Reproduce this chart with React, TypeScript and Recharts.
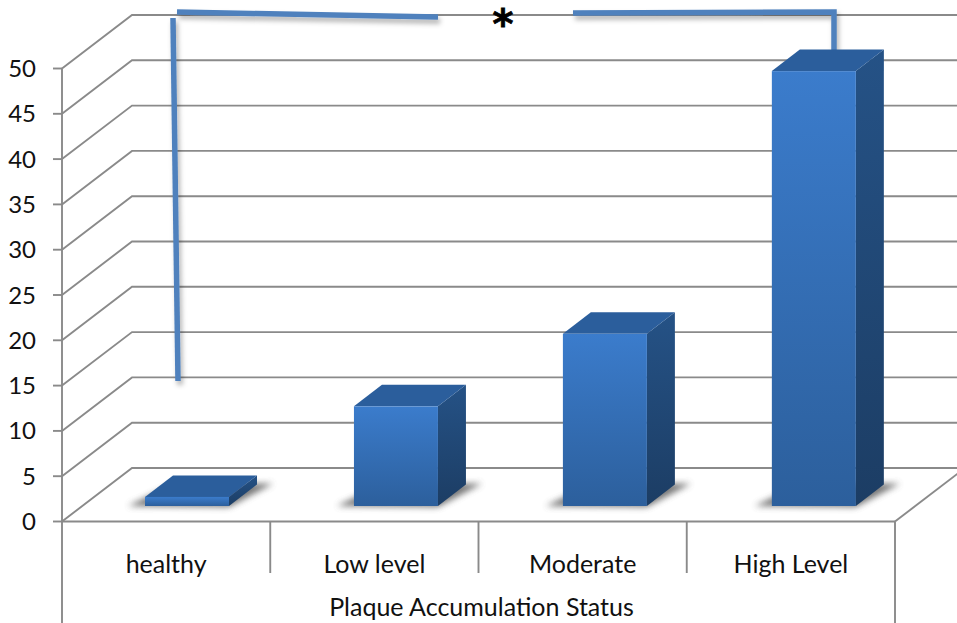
import { BarChart, Bar, XAxis, YAxis, CartesianGrid, Customized } from "recharts";

const categories = ["healthy", "Low level", "Moderate", "High Level"];
const plaqueValues = [1, 11, 19, 48];
const yTicks = [0, 5, 10, 15, 20, 25, 30, 35, 40, 45, 50];
const axisTitle = "Plaque Accumulation Status";

const chartData = categories.map((name, i) => ({ name, value: plaqueValues[i] }));

const WIDTH = 957;
const HEIGHT = 623;
const PLOT_LEFT = 62;
const PLOT_RIGHT = 895;
const PLOT_TOP = 68.5;
const PLOT_BOTTOM = 521.5;
const BAND = (PLOT_RIGHT - PLOT_LEFT) / categories.length;

// Fake 3D: how far the back wall and the bar depth sit from the front plane.
const WALL_DX = 70;
const WALL_DY = 53.5;
const BAR_SHIFT_X = 21;
const BAR_DRIFT_X = 0.7; // bars spread a touch wider than the category bands
const BAR_SHIFT_Y = 15.5;
const BAR_DX = 28;
const BAR_DY = 21.5;

const LINE = "#8a8a8a";
const LINE_W = 1.9;
const FONT = "Lato, 'Open Sans', sans-serif";

// Each grid line runs up the side wall and then across the back wall.
const WallLine = ({ x1, y1 }: any) => {
  const isFloor = Math.abs(y1 - PLOT_BOTTOM) < 1;
  return (
    <g key={y1} fill="none" stroke={LINE} strokeWidth={LINE_W}>
      <polyline points={`${x1},${y1} ${x1 + WALL_DX},${y1 - WALL_DY} ${WIDTH},${y1 - WALL_DY}`} />
      {isFloor && (
        <line x1={PLOT_RIGHT} y1={y1} x2={PLOT_RIGHT + WALL_DX} y2={y1 - WALL_DY} />
      )}
    </g>
  );
};

const CuboidBar = ({ x, y, width, height, index }: any) => {
  const left = x + BAR_SHIFT_X + index * BAR_DRIFT_X;
  const right = left + width;
  const top = y - BAR_SHIFT_Y;
  const base = top + height;
  return (
    <g>
      <polygon
        points={`${left - 17},${base} ${right},${base + 1} ${right + BAR_DX + 16},${base - BAR_DY - 1} ${left + BAR_DX},${base - BAR_DY}`}
        fill="#555"
        opacity={0.8}
        filter="url(#floorShadow)"
      />
      <polygon
        points={`${right},${top} ${right + BAR_DX},${top - BAR_DY} ${right + BAR_DX},${base - BAR_DY} ${right},${base}`}
        fill="url(#barSide)"
      />
      <polygon
        points={`${left},${top} ${right},${top} ${right + BAR_DX},${top - BAR_DY} ${left + BAR_DX},${top - BAR_DY}`}
        fill="#2b5e9c"
      />
      <rect x={left} y={top} width={width} height={height} fill="url(#barFront)" />
    </g>
  );
};

const CategoryTick = ({ x, y, payload, index }: any) => {
  const divider = x - BAND / 2;
  return (
    <g>
      <line
        x1={divider}
        y1={PLOT_BOTTOM}
        x2={divider}
        y2={index === 0 ? HEIGHT : 573}
        stroke={LINE}
        strokeWidth={LINE_W}
      />
      {index === categories.length - 1 && (
        <line x1={PLOT_RIGHT} y1={PLOT_BOTTOM} x2={PLOT_RIGHT} y2={HEIGHT} stroke={LINE} strokeWidth={LINE_W} />
      )}
      <text x={x} y={y + 43} textAnchor="middle" fontFamily={FONT} fontSize={25} fill="#111">
        {payload.value}
      </text>
    </g>
  );
};

// Significance bracket and asterisk above the bars.
const Bracket = () => (
  <g>
    <g fill="none" stroke="#4f81bd" strokeWidth={5.5} filter="url(#lineShadow)">
      <path d="M178 381 L173 18" />
      <path d="M177 12 L438 17" />
      <path d="M573 13 L834 12 L834 50" />
    </g>
    <text
      x={503}
      y={38}
      textAnchor="middle"
      fontFamily="'DejaVu Sans'"
      fontWeight="bold"
      fontSize={40}
      fill="#000"
      stroke="#000"
      strokeWidth={0.8}
    >
      *
    </text>
  </g>
);

export default function App() {
  return (
    <div style={{ position: "absolute", left: 0, top: 0, background: "#fff" }}>
      <BarChart
        width={WIDTH}
        height={HEIGHT}
        data={chartData}
        barSize={84}
        margin={{ top: PLOT_TOP, right: WIDTH - PLOT_RIGHT, left: 0, bottom: 0 }}
      >
        <defs>
          <linearGradient id="barFront" x1="0" y1="0" x2="0" y2="1">
            <stop offset="0%" stopColor="#3b7ccc" />
            <stop offset="100%" stopColor="#2c5f9c" />
          </linearGradient>
          <linearGradient id="barSide" x1="0" y1="0" x2="0" y2="1">
            <stop offset="0%" stopColor="#255286" />
            <stop offset="100%" stopColor="#1c3d64" />
          </linearGradient>
          <filter id="floorShadow" x="-30%" y="-60%" width="160%" height="220%">
            <feGaussianBlur stdDeviation="3" />
          </filter>
          <filter id="lineShadow" x="-10%" y="-10%" width="120%" height="120%">
            <feDropShadow dx="2" dy="4" stdDeviation="2.5" floodColor="#000" floodOpacity="0.3" />
          </filter>
        </defs>
        <CartesianGrid vertical={false} horizontal={WallLine as any} />
        <XAxis
          dataKey="name"
          height={HEIGHT - PLOT_BOTTOM}
          axisLine={{ stroke: LINE, strokeWidth: LINE_W }}
          tickLine={false}
          interval={0}
          tick={CategoryTick as any}
          label={{
            value: axisTitle,
            position: "insideBottom",
            offset: 7,
            dx: 3,
            fill: "#111",
            fontFamily: FONT,
            fontSize: 25,
          }}
        />
        <YAxis
          width={PLOT_LEFT}
          domain={[0, 50]}
          ticks={yTicks}
          interval={0}
          axisLine={{ stroke: LINE, strokeWidth: LINE_W }}
          tickLine={{ stroke: LINE, strokeWidth: LINE_W }}
          tickSize={9}
          tickMargin={17}
          tick={{ fill: "#111", fontFamily: FONT, fontSize: 24 }}
        />
        <Bar dataKey="value" isAnimationActive={false} shape={CuboidBar as any} />
        <Customized component={<Bracket />} />
      </BarChart>
    </div>
  );
}
